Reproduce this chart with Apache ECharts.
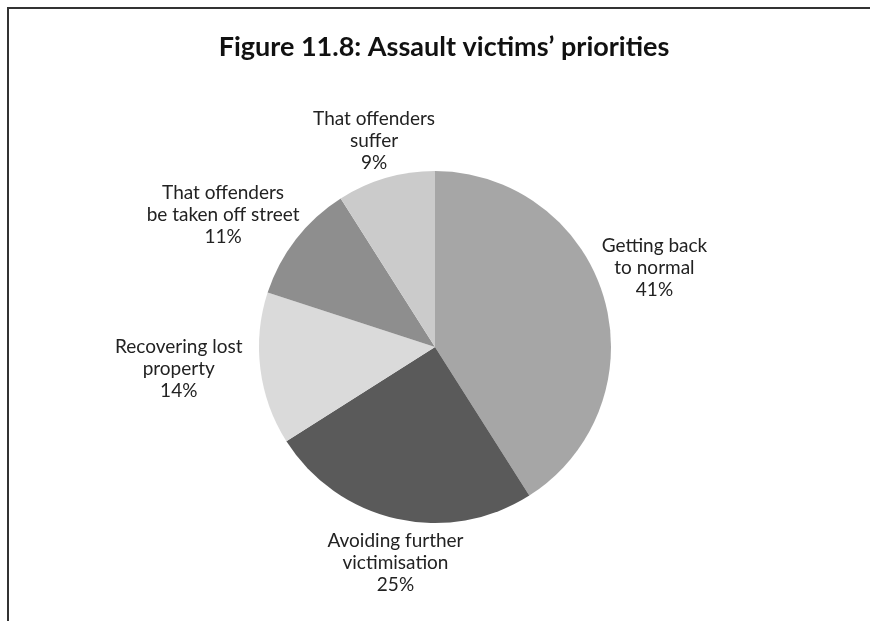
<!DOCTYPE html>
<html>
<head>
<meta charset="utf-8">
<script src="https://cdn.jsdelivr.net/npm/echarts@6/dist/echarts.min.js"></script>
<style>
  html, body { margin: 0; padding: 0; background: #fff; }
  #chart { width: 870px; height: 621px; }
</style>
</head>
<body>
<div id="chart"></div>
<script>
// data
const categories = [
  'Getting back\nto normal',
  'Avoiding further\nvictimisation',
  'Recovering lost\nproperty',
  'That offenders\nbe taken off street',
  'That offenders\nsuffer'
]
const shares = [41, 25, 14, 11, 9]
const sliceColors = ['#a6a6a6', '#5a5a5a', '#dadada', '#8e8e8e', '#cbcbcb']

// small hand nudges so the labels sit where the original put them
const labelGap = 8
const labelNudge = [[-10, -12], [8, 3], [-10, -9], [-24, 14], [0, 4]]

const chart = echarts.init(document.getElementById('chart'))

// place each label just outside the slice, along its middle angle (like "outside end")
function placeLabel(p) {
  const layout = chart.getModel().getSeriesByIndex(0).getData().getItemLayout(p.dataIndex)
  const mid = (layout.startAngle + layout.endAngle) / 2
  const dx = Math.cos(mid), dy = Math.sin(mid)
  const hw = p.labelRect.width / 2, hh = p.labelRect.height / 2
  const t = Math.min(Math.abs(dx) > 1e-6 ? hw / Math.abs(dx) : Infinity,
                     Math.abs(dy) > 1e-6 ? hh / Math.abs(dy) : Infinity)
  const d = layout.r + labelGap + t
  const n = labelNudge[p.dataIndex] || [0, 0]
  return {
    x: layout.cx + dx * d + n[0],
    y: layout.cy + dy * d + n[1],
    align: 'center',
    verticalAlign: 'middle'
  }
}

const option = {
  backgroundColor: '#fff',
  animation: false,
  title: {
    text: 'Figure 11.8: Assault victims’ priorities',
    left: 439,
    top: 29,
    textAlign: 'center',
    textStyle: {
      fontFamily: 'Lato',
      fontWeight: 'bold',
      fontSize: 27,
      color: '#111'
    }
  },
  graphic: [
    // frame: top and left rules
    { type: 'line', shape: { x1: 7, y1: 8, x2: 870, y2: 8 }, style: { stroke: '#333', lineWidth: 2 } },
    { type: 'line', shape: { x1: 8, y1: 8, x2: 8, y2: 621 }, style: { stroke: '#333', lineWidth: 2 } }
  ],
  series: [{
    type: 'pie',
    center: [435, 347],
    radius: 176,
    startAngle: 90,
    clockwise: true,
    avoidLabelOverlap: false,
    label: {
      show: true,
      position: 'outside',
      formatter: '{b}\n{d}%',
      fontFamily: 'Lato',
      fontSize: 19,
      lineHeight: 22,
      color: '#222'
    },
    labelLine: { show: false, length: 8, length2: 0 },
    labelLayout: placeLabel,
    itemStyle: { borderWidth: 0 },
    emphasis: { disabled: true },
    data: categories.map((c, i) => ({
      name: c,
      value: shares[i],
      itemStyle: { color: sliceColors[i] }
    }))
  }]
}

chart.setOption(option)
window.addEventListener('resize', chart.resize)
</script>
</body>
</html>
